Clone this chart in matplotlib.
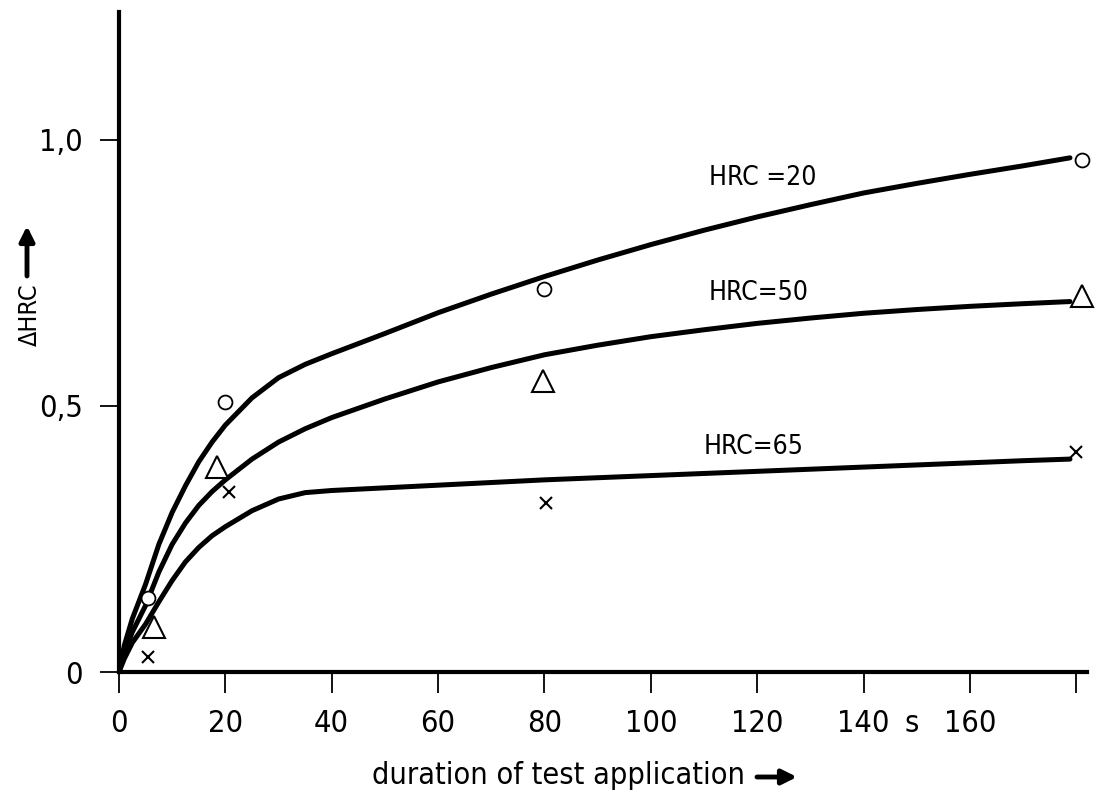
import matplotlib
matplotlib.use("Agg")
import matplotlib.pyplot as plt
from matplotlib.ticker import FixedLocator, FixedFormatter

plt.rcParams['font.family'] = ['DejaVu Sans']
plt.rcParams['font.stretch'] = 'condensed'

# ---- data ----
x_20 = [0, 1, 2.5, 5, 7.5, 10, 12.5, 15, 17.5, 20, 25, 30, 35, 40, 50, 60, 70, 80,
        90, 100, 110, 120, 130, 140, 150, 160, 170, 178.8]
y_20 = [0, 0.05, 0.10, 0.165, 0.24, 0.30, 0.35, 0.395, 0.432, 0.464, 0.515, 0.553,
        0.578, 0.598, 0.636, 0.675, 0.710, 0.743, 0.774, 0.803, 0.830, 0.855, 0.878,
        0.900, 0.918, 0.935, 0.951, 0.966]

x_50 = [0, 1, 2.5, 5, 7.5, 10, 12.5, 15, 17.5, 20, 25, 30, 35, 40, 50, 60, 70, 80,
        90, 100, 110, 120, 130, 140, 150, 160, 170, 178.8]
y_50 = [0, 0.035, 0.075, 0.125, 0.188, 0.24, 0.28, 0.313, 0.339, 0.361, 0.40, 0.432,
        0.457, 0.478, 0.513, 0.545, 0.572, 0.596, 0.614, 0.630, 0.643, 0.655, 0.665,
        0.674, 0.681, 0.687, 0.692, 0.696]

x_65 = [0, 1, 2.5, 5, 7.5, 10, 12.5, 15, 17.5, 20, 25, 30, 35, 40, 50, 60, 70, 80,
        90, 100, 110, 120, 130, 140, 150, 160, 170, 178.8]
y_65 = [0, 0.025, 0.055, 0.09, 0.132, 0.172, 0.207, 0.234, 0.256, 0.273, 0.303, 0.325,
        0.337, 0.341, 0.346, 0.351, 0.356, 0.361, 0.365, 0.369, 0.373, 0.377, 0.381,
        0.385, 0.389, 0.393, 0.397, 0.400]

pts20_x = [5.5, 19.9, 80.0, 181.0]
pts20_y = [0.139, 0.507, 0.720, 0.962]
pts50_x = [6.6, 18.4, 79.7, 181.0]
pts50_y = [0.085, 0.385, 0.547, 0.707]
pts65_x = [5.4, 20.7, 80.3, 180.0]
pts65_y = [0.028, 0.338, 0.318, 0.413]

curve_labels = ["HRC =20", "HRC=50", "HRC=65"]
xtick_vals = [0, 20, 40, 60, 80, 100, 120, 140, 160, 180]
xtick_text = ["0", "20", "40", "60", "80", "100", "120", "140", "160", ""]
ytick_vals = [0, 0.5, 1.0]
ytick_text = ["0", "0,5", "1,0"]

W, H = 1098, 794
fig = plt.figure(figsize=(W / 100, H / 100), dpi=100)
ax = fig.add_axes([119 / W, 122 / H, 968 / W, 660 / H])
ax.set_xlim(0, 182)
ax.set_ylim(0, 1.24)

for s in ['top', 'right']:
    ax.spines[s].set_visible(False)
for s in ['left', 'bottom']:
    ax.spines[s].set_linewidth(3.0)

lw = 3.6
for xs, ys in ((x_20, y_20), (x_50, y_50), (x_65, y_65)):
    ax.plot(xs, ys, color='black', lw=lw, solid_capstyle='round', solid_joinstyle='round')

ax.plot(pts20_x, pts20_y, linestyle='none', marker='o', markersize=10,
        markerfacecolor='white', markeredgecolor='black', markeredgewidth=1.3, clip_on=False)
ax.plot(pts50_x, pts50_y, linestyle='none', marker='^', markersize=16,
        markerfacecolor='white', markeredgecolor='black', markeredgewidth=1.5, clip_on=False)
ax.plot(pts65_x, pts65_y, linestyle='none', marker='x', markersize=9,
        color='black', markeredgewidth=1.5, clip_on=False)

ax.text(111, 0.929, curve_labels[0], fontsize=19, ha='left', va='center')
ax.text(110.9, 0.712, curve_labels[1], fontsize=19, ha='left', va='center')
ax.text(110, 0.423, curve_labels[2], fontsize=19, ha='left', va='center')

ax.xaxis.set_major_locator(FixedLocator(xtick_vals))
ax.xaxis.set_major_formatter(FixedFormatter(xtick_text))
ax.yaxis.set_major_locator(FixedLocator(ytick_vals))
ax.yaxis.set_major_formatter(FixedFormatter(ytick_text))
ax.tick_params(axis='x', direction='out', length=15, width=1.3, pad=12, labelsize=22)
ax.tick_params(axis='y', direction='out', length=14, width=1.3, pad=12, labelsize=22)

ax.text(149, -0.097, "s", fontsize=22, ha='center', va='center', clip_on=False)

# axis labels with arrows
fig.text(745 / W, (H - 775) / H, "duration of test application", fontsize=22,
         ha='right', va='center')
ax.annotate('', xy=(797, H - 777), xytext=(757, H - 777), xycoords='figure pixels',
            textcoords='figure pixels',
            arrowprops=dict(arrowstyle='-|>', lw=3.5, mutation_scale=22, color='black',
                            shrinkA=0, shrinkB=0))
fig.text(30 / W, (H - 283) / H, "\u0394HRC", fontsize=18, rotation=90,
         ha='center', va='top')
ax.annotate('', xy=(27, H - 226), xytext=(27, H - 276), xycoords='figure pixels',
            textcoords='figure pixels',
            arrowprops=dict(arrowstyle='-|>', lw=3.5, mutation_scale=22, color='black',
                            shrinkA=0, shrinkB=0))

fig.savefig("out.png", dpi=100, facecolor='white')
